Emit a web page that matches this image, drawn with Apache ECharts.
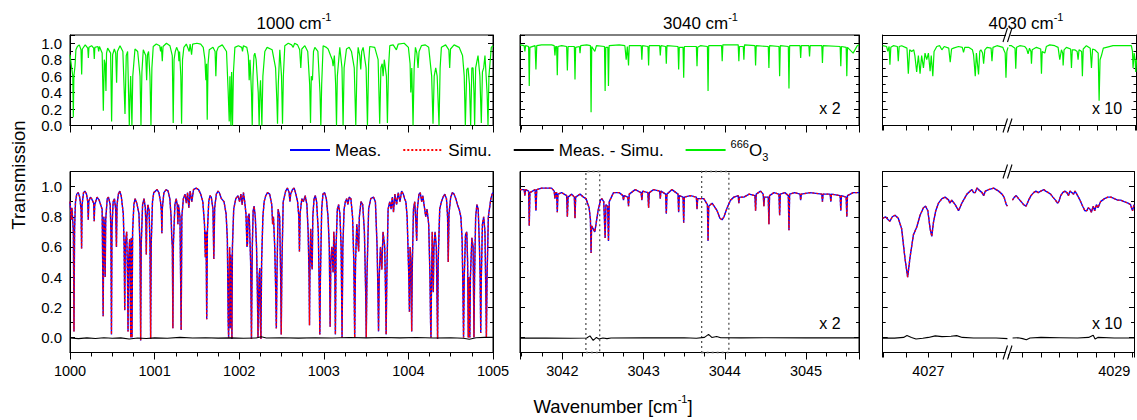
<!DOCTYPE html>
<html>
<head>
<meta charset="utf-8">
<script src="https://cdn.jsdelivr.net/npm/echarts@6/dist/echarts.min.js"></script>
<style>
html,body{margin:0;padding:0;background:#fff;}
#c{width:1137px;height:420px;}
</style>
</head>
<body>
<div id="c"></div>
<script>
// ---------------- DATA ----------------
const panelTitles = ['1000', '3040', '4030'];
const scaleNotes = ['x 2', 'x 10'];
const legendNames = ['Meas.', 'Simu.', 'Meas. - Simu.', '666O3'];
const yTickStep = 0.2;
const xRange1000 = [1000, 1005];
const xRange3040 = [3041.479, 3045.652];
const xRange4030a = [4026.595, 4027.705];
const xRange4030b = [4027.84, 4029.215];
const labels4030 = [4027, 4029];
const boxes3040 = [[3042.29, 3042.46], [3043.715, 3044.05]];

const ozone1000 = [
[1000.000,0.86],[1000.010,0.78],[1000.020,0.70],[1000.033,0.60],[1000.039,0.10],[1000.046,0.60],[1000.059,0.72],[1000.070,0.92],[1000.087,0.96],[1000.110,0.98],[1000.130,0.92],[1000.138,0.62],[1000.146,0.93],[1000.180,0.98],[1000.210,0.94],[1000.217,0.82],[1000.224,0.95],[1000.255,0.97],[1000.280,0.94],[1000.287,0.81],[1000.294,0.95],[1000.330,0.96],[1000.339,0.90],[1000.348,0.96],[1000.380,0.88],[1000.394,0.18],[1000.405,0.80],[1000.415,0.75],[1000.425,0.42],[1000.432,0.88],[1000.445,0.94],[1000.480,0.88],[1000.492,0.05],[1000.504,0.86],[1000.524,0.93],[1000.540,0.88],[1000.551,0.52],[1000.560,0.90],[1000.591,0.97],[1000.625,0.90],[1000.650,0.14],[1000.665,0.85],[1000.681,0.90],[1000.692,0.40],[1000.701,0.00],[1000.709,0.35],[1000.717,0.60],[1000.725,0.30],[1000.732,0.00],[1000.742,0.60],[1000.768,0.93],[1000.800,0.90],[1000.828,0.60],[1000.839,0.00],[1000.850,0.65],[1000.866,0.92],[1000.895,0.85],[1000.906,0.55],[1000.916,0.86],[1000.929,0.90],[1000.945,0.60],[1000.957,0.00],[1000.968,0.70],[1000.984,0.96],[1001.020,0.99],[1001.060,0.97],[1001.071,0.90],[1001.080,0.96],[1001.091,0.78],[1001.100,0.96],[1001.140,1.00],[1001.181,0.97],[1001.209,0.85],[1001.220,0.03],[1001.230,0.80],[1001.245,0.90],[1001.260,0.95],[1001.280,0.90],[1001.287,0.78],[1001.295,0.90],[1001.310,0.60],[1001.319,0.02],[1001.330,0.80],[1001.346,0.95],[1001.375,0.99],[1001.409,0.90],[1001.420,0.99],[1001.437,0.86],[1001.450,0.99],[1001.500,1.00],[1001.545,0.99],[1001.575,0.95],[1001.595,0.80],[1001.606,0.55],[1001.614,0.75],[1001.622,0.07],[1001.632,0.75],[1001.646,0.92],[1001.690,0.95],[1001.715,0.90],[1001.724,0.60],[1001.734,0.90],[1001.752,0.95],[1001.800,0.98],[1001.850,0.90],[1001.870,0.40],[1001.882,0.05],[1001.890,0.60],[1001.895,0.30],[1001.902,0.00],[1001.910,0.65],[1001.915,0.40],[1001.921,0.00],[1001.932,0.65],[1001.949,0.95],[1001.990,0.97],[1002.030,0.95],[1002.039,0.90],[1002.050,0.97],[1002.090,0.95],[1002.108,0.85],[1002.118,0.55],[1002.128,0.80],[1002.145,0.40],[1002.154,0.00],[1002.163,0.60],[1002.175,0.85],[1002.185,0.88],[1002.200,0.80],[1002.225,0.40],[1002.236,0.00],[1002.244,0.40],[1002.252,0.55],[1002.260,0.30],[1002.268,0.00],[1002.280,0.60],[1002.303,0.90],[1002.330,0.95],[1002.390,0.92],[1002.430,0.70],[1002.445,0.30],[1002.453,0.02],[1002.462,0.50],[1002.480,0.92],[1002.500,0.60],[1002.512,0.02],[1002.522,0.60],[1002.539,0.97],[1002.580,1.00],[1002.620,0.98],[1002.638,0.95],[1002.655,1.00],[1002.690,0.98],[1002.715,0.92],[1002.728,0.70],[1002.740,0.93],[1002.776,0.97],[1002.810,0.90],[1002.833,0.50],[1002.843,0.03],[1002.852,0.60],[1002.866,0.55],[1002.878,0.90],[1002.894,0.95],[1002.930,0.90],[1002.955,0.40],[1002.965,0.00],[1002.975,0.50],[1002.992,0.97],[1003.030,0.95],[1003.051,0.93],[1003.080,0.85],[1003.100,0.80],[1003.110,0.72],[1003.125,0.85],[1003.140,0.50],[1003.150,0.00],[1003.160,0.60],[1003.189,0.95],[1003.215,0.70],[1003.228,0.00],[1003.240,0.70],[1003.268,0.93],[1003.300,0.95],[1003.327,0.90],[1003.360,0.70],[1003.378,0.00],[1003.392,0.70],[1003.406,0.95],[1003.425,0.85],[1003.437,0.68],[1003.448,0.90],[1003.465,0.95],[1003.500,0.70],[1003.516,0.00],[1003.530,0.75],[1003.543,0.96],[1003.602,0.95],[1003.642,0.80],[1003.661,0.02],[1003.675,0.70],[1003.690,0.75],[1003.701,0.60],[1003.715,0.80],[1003.740,0.60],[1003.752,0.03],[1003.765,0.70],[1003.780,0.97],[1003.820,0.98],[1003.858,0.92],[1003.880,0.99],[1003.950,1.00],[1004.000,0.95],[1004.020,0.75],[1004.028,0.40],[1004.040,0.70],[1004.055,0.00],[1004.068,0.70],[1004.083,0.95],[1004.100,0.88],[1004.114,0.70],[1004.126,0.90],[1004.154,0.97],[1004.200,0.98],[1004.240,0.95],[1004.275,0.60],[1004.291,0.02],[1004.305,0.60],[1004.323,0.70],[1004.340,0.60],[1004.362,0.00],[1004.375,0.70],[1004.390,0.95],[1004.440,0.98],[1004.478,0.92],[1004.488,0.70],[1004.498,0.93],[1004.540,0.98],[1004.600,0.95],[1004.640,0.85],[1004.660,0.60],[1004.673,0.00],[1004.690,0.68],[1004.705,0.70],[1004.722,0.50],[1004.736,0.00],[1004.750,0.70],[1004.764,0.70],[1004.775,0.40],[1004.783,0.00],[1004.795,0.70],[1004.823,0.85],[1004.845,0.60],[1004.862,0.03],[1004.875,0.65],[1004.890,0.70],[1004.905,0.85],[1004.930,0.40],[1004.941,0.00],[1004.952,0.60],[1004.980,0.95],[1005.000,0.97]
];

const meas1000 = [
[1000.000,0.90],[1000.008,0.84],[1000.015,0.78],[1000.022,0.86],[1000.030,0.80],[1000.040,0.70],[1000.047,0.04],[1000.054,0.72],[1000.065,0.90],[1000.080,0.95],[1000.098,0.96],[1000.115,0.93],[1000.131,0.85],[1000.137,0.59],[1000.143,0.88],[1000.160,0.96],[1000.176,0.97],[1000.195,0.95],[1000.210,0.90],[1000.216,0.78],[1000.222,0.90],[1000.240,0.93],[1000.255,0.92],[1000.280,0.89],[1000.286,0.77],[1000.292,0.88],[1000.320,0.93],[1000.345,0.91],[1000.380,0.85],[1000.392,0.14],[1000.400,0.80],[1000.410,0.70],[1000.416,0.40],[1000.422,0.78],[1000.440,0.92],[1000.455,0.93],[1000.475,0.88],[1000.484,0.70],[1000.490,0.02],[1000.496,0.72],[1000.510,0.90],[1000.525,0.92],[1000.540,0.85],[1000.549,0.60],[1000.556,0.88],[1000.572,0.95],[1000.588,0.97],[1000.605,0.94],[1000.630,0.82],[1000.640,0.60],[1000.647,0.18],[1000.654,0.62],[1000.670,0.70],[1000.680,0.40],[1000.686,0.04],[1000.692,0.50],[1000.705,0.65],[1000.714,0.20],[1000.718,0.00],[1000.724,0.66],[1000.729,0.30],[1000.733,0.00],[1000.740,0.70],[1000.755,0.88],[1000.770,0.92],[1000.790,0.89],[1000.815,0.82],[1000.828,0.60],[1000.835,-0.02],[1000.842,0.62],[1000.858,0.88],[1000.875,0.92],[1000.890,0.86],[1000.897,0.75],[1000.902,0.55],[1000.908,0.78],[1000.920,0.88],[1000.935,0.84],[1000.946,0.60],[1000.953,-0.01],[1000.960,0.62],[1000.975,0.90],[1000.990,0.96],[1001.010,0.97],[1001.030,0.98],[1001.050,0.96],[1001.070,0.90],[1001.080,0.84],[1001.086,0.69],[1001.092,0.86],[1001.110,0.96],[1001.137,0.98],[1001.160,0.97],[1001.180,0.92],[1001.195,0.80],[1001.203,0.66],[1001.210,0.60],[1001.216,0.06],[1001.222,0.62],[1001.240,0.88],[1001.255,0.92],[1001.268,0.88],[1001.275,0.75],[1001.282,0.88],[1001.300,0.80],[1001.314,0.05],[1001.322,0.80],[1001.340,0.92],[1001.360,0.95],[1001.375,0.89],[1001.390,0.96],[1001.405,0.86],[1001.420,0.97],[1001.440,0.90],[1001.460,0.98],[1001.490,0.99],[1001.520,0.98],[1001.545,0.95],[1001.570,0.90],[1001.590,0.75],[1001.600,0.53],[1001.608,0.70],[1001.616,0.12],[1001.624,0.70],[1001.640,0.90],[1001.655,0.94],[1001.670,0.93],[1001.690,0.85],[1001.700,0.52],[1001.710,0.86],[1001.730,0.95],[1001.750,0.97],[1001.765,0.96],[1001.790,0.92],[1001.820,0.90],[1001.845,0.82],[1001.860,0.65],[1001.870,0.10],[1001.875,0.00],[1001.880,0.35],[1001.887,0.60],[1001.894,0.06],[1001.900,0.55],[1001.908,0.30],[1001.914,-0.01],[1001.920,0.60],[1001.935,0.85],[1001.960,0.92],[1001.985,0.94],[1002.005,0.90],[1002.020,0.95],[1002.035,0.88],[1002.050,0.96],[1002.065,0.90],[1002.080,0.82],[1002.092,0.60],[1002.098,0.62],[1002.105,0.80],[1002.118,0.82],[1002.135,0.50],[1002.145,-0.01],[1002.155,0.60],[1002.165,0.84],[1002.176,0.87],[1002.190,0.80],[1002.205,0.60],[1002.215,0.30],[1002.222,0.00],[1002.228,0.20],[1002.235,0.40],[1002.243,0.46],[1002.250,0.10],[1002.257,-0.01],[1002.265,0.50],[1002.280,0.80],[1002.295,0.90],[1002.314,0.94],[1002.335,0.96],[1002.360,0.95],[1002.385,0.88],[1002.395,0.75],[1002.405,0.80],[1002.420,0.60],[1002.432,0.30],[1002.439,0.06],[1002.446,0.40],[1002.460,0.85],[1002.478,0.80],[1002.490,0.40],[1002.497,0.02],[1002.504,0.45],[1002.520,0.90],[1002.549,0.97],[1002.570,0.99],[1002.590,0.96],[1002.600,0.90],[1002.608,0.95],[1002.630,0.98],[1002.650,0.99],[1002.670,0.95],[1002.690,0.90],[1002.705,0.80],[1002.712,0.57],[1002.720,0.82],[1002.740,0.92],[1002.760,0.90],[1002.780,0.94],[1002.800,0.88],[1002.815,0.70],[1002.826,0.40],[1002.831,0.08],[1002.837,0.50],[1002.845,0.72],[1002.855,0.50],[1002.863,0.45],[1002.870,0.80],[1002.885,0.92],[1002.900,0.94],[1002.915,0.90],[1002.935,0.70],[1002.947,0.30],[1002.953,0.02],[1002.960,0.40],[1002.975,0.85],[1002.990,0.95],[1003.010,0.96],[1003.030,0.92],[1003.050,0.80],[1003.065,0.60],[1003.075,0.07],[1003.083,0.50],[1003.095,0.60],[1003.110,0.43],[1003.118,0.70],[1003.128,0.60],[1003.137,0.02],[1003.145,0.60],[1003.160,0.85],[1003.175,0.88],[1003.190,0.82],[1003.205,0.60],[1003.216,0.00],[1003.225,0.60],[1003.240,0.85],[1003.255,0.90],[1003.270,0.92],[1003.285,0.88],[1003.300,0.93],[1003.320,0.92],[1003.340,0.80],[1003.355,0.50],[1003.365,0.00],[1003.375,0.50],[1003.390,0.75],[1003.405,0.62],[1003.412,0.57],[1003.420,0.80],[1003.440,0.90],[1003.460,0.88],[1003.480,0.70],[1003.495,0.30],[1003.502,0.00],[1003.510,0.40],[1003.530,0.85],[1003.555,0.92],[1003.588,0.93],[1003.610,0.90],[1003.630,0.60],[1003.640,0.30],[1003.647,0.04],[1003.655,0.40],[1003.670,0.60],[1003.686,0.45],[1003.700,0.70],[1003.720,0.60],[1003.730,0.30],[1003.737,0.02],[1003.745,0.40],[1003.760,0.85],[1003.780,0.90],[1003.795,0.85],[1003.810,0.93],[1003.824,0.83],[1003.840,0.95],[1003.860,0.88],[1003.880,0.96],[1003.900,0.90],[1003.920,0.97],[1003.940,0.95],[1003.955,0.92],[1003.970,0.90],[1003.985,0.80],[1003.995,0.60],[1004.005,0.40],[1004.012,0.17],[1004.020,0.60],[1004.030,0.50],[1004.039,0.04],[1004.047,0.50],[1004.060,0.85],[1004.075,0.90],[1004.090,0.75],[1004.098,0.64],[1004.106,0.85],[1004.125,0.95],[1004.140,0.96],[1004.157,0.90],[1004.170,0.94],[1004.190,0.86],[1004.205,0.80],[1004.220,0.85],[1004.240,0.75],[1004.255,0.40],[1004.262,0.10],[1004.267,0.00],[1004.273,0.35],[1004.282,0.70],[1004.294,0.30],[1004.302,0.60],[1004.315,0.70],[1004.330,0.60],[1004.340,0.20],[1004.345,-0.01],[1004.352,0.50],[1004.370,0.85],[1004.390,0.90],[1004.410,0.93],[1004.430,0.95],[1004.450,0.92],[1004.463,0.80],[1004.471,0.50],[1004.480,0.82],[1004.500,0.93],[1004.520,0.96],[1004.540,0.95],[1004.560,0.92],[1004.580,0.88],[1004.600,0.85],[1004.620,0.80],[1004.635,0.65],[1004.645,0.30],[1004.652,0.00],[1004.660,0.40],[1004.675,0.68],[1004.690,0.70],[1004.700,0.50],[1004.708,0.00],[1004.714,0.40],[1004.720,0.30],[1004.726,0.00],[1004.733,0.40],[1004.750,0.66],[1004.765,0.60],[1004.775,0.00],[1004.782,0.40],[1004.795,0.80],[1004.810,0.88],[1004.825,0.85],[1004.840,0.60],[1004.848,0.40],[1004.855,0.03],[1004.862,0.40],[1004.875,0.75],[1004.890,0.80],[1004.905,0.70],[1004.915,0.30],[1004.922,0.00],[1004.930,0.40],[1004.945,0.80],[1004.960,0.86],[1004.975,0.92],[1004.990,0.95],[1005.000,0.96]
];
// Simu. coincides with Meas. at the resolution of the picture
const simu1000 = meas1000;
const res1000 = [[1000.00,-0.004],[1000.10,-0.008],[1000.20,-0.003],[1000.30,-0.007],[1000.40,-0.002],[1000.50,-0.006],[1000.60,-0.003],[1000.70,-0.010],[1000.80,-0.004],[1000.90,-0.007],[1001.00,-0.003],[1001.15,-0.006],[1001.30,0.000],[1001.45,-0.004],[1001.60,-0.002],[1001.75,-0.005],[1001.90,-0.003],[1002.05,-0.006],[1002.20,-0.004],[1002.26,0.004],[1002.32,-0.004],[1002.50,-0.002],[1002.70,-0.005],[1002.90,-0.002],[1003.10,-0.004],[1003.30,-0.001],[1003.50,-0.003],[1003.70,-0.001],[1003.90,-0.003],[1004.10,-0.001],[1004.30,-0.004],[1004.50,-0.002],[1004.65,-0.006],[1004.72,-0.012],[1004.80,-0.002],[1004.90,0.000],[1005.00,0.000]];

const ozone3040 = [
[3041.479,0.98],[3041.530,0.97],[3041.539,0.90],[3041.548,0.97],[3041.585,0.96],[3041.593,0.48],[3041.601,0.95],[3041.665,0.97],[3041.675,0.68],[3041.685,0.97],[3041.745,0.98],[3041.868,0.98],[3041.900,0.97],[3041.909,0.85],[3041.918,0.96],[3041.930,0.96],[3041.938,0.61],[3041.946,0.96],[3041.992,0.97],[3042.053,0.96],[3042.062,0.67],[3042.071,0.96],[3042.148,0.96],[3042.156,0.56],[3042.164,0.95],[3042.210,0.96],[3042.218,0.88],[3042.226,0.97],[3042.300,0.98],[3042.346,0.97],[3042.354,0.16],[3042.362,0.96],[3042.400,0.90],[3042.420,0.97],[3042.519,0.96],[3042.527,0.42],[3042.535,0.95],[3042.560,0.95],[3042.568,0.48],[3042.576,0.97],[3042.700,0.98],[3042.770,0.97],[3042.786,0.80],[3042.800,0.96],[3042.815,0.73],[3042.824,0.97],[3042.971,0.97],[3042.979,0.80],[3042.987,0.97],[3043.054,0.96],[3043.062,0.73],[3043.070,0.97],[3043.198,0.97],[3043.206,0.85],[3043.214,0.97],[3043.272,0.96],[3043.280,0.75],[3043.288,0.97],[3043.424,0.96],[3043.432,0.68],[3043.440,0.95],[3043.486,0.95],[3043.494,0.58],[3043.502,0.96],[3043.650,0.96],[3043.658,0.72],[3043.666,0.95],[3043.700,0.97],[3043.786,0.96],[3043.794,0.42],[3043.802,0.97],[3043.960,0.97],[3043.968,0.78],[3043.976,0.98],[3044.165,0.98],[3044.173,0.78],[3044.181,0.96],[3044.227,0.96],[3044.235,0.80],[3044.243,0.98],[3044.371,0.97],[3044.379,0.73],[3044.387,0.97],[3044.535,0.96],[3044.543,0.70],[3044.551,0.97],[3044.667,0.96],[3044.675,0.60],[3044.683,0.97],[3044.782,0.96],[3044.790,0.45],[3044.798,0.97],[3044.926,0.97],[3044.934,0.82],[3044.942,0.97],[3045.035,0.97],[3045.043,0.84],[3045.051,0.97],[3045.194,0.97],[3045.202,0.76],[3045.210,0.97],[3045.420,0.96],[3045.428,0.72],[3045.436,0.96],[3045.494,0.95],[3045.502,0.60],[3045.510,0.95],[3045.580,0.88],[3045.630,0.97],[3045.652,0.98]
];

const meas3040 = [
[3041.479,0.98],[3041.530,0.98],[3041.539,0.94],[3041.548,0.98],[3041.585,0.97],[3041.593,0.74],[3041.601,0.96],[3041.665,0.98],[3041.675,0.84],[3041.685,0.98],[3041.745,0.99],[3041.868,0.99],[3041.900,0.97],[3041.909,0.92],[3041.918,0.96],[3041.930,0.96],[3041.938,0.83],[3041.946,0.95],[3041.992,0.96],[3042.053,0.94],[3042.062,0.80],[3042.071,0.93],[3042.115,0.95],[3042.148,0.93],[3042.156,0.79],[3042.164,0.93],[3042.218,0.95],[3042.260,0.93],[3042.292,0.92],[3042.330,0.86],[3042.346,0.78],[3042.354,0.56],[3042.360,0.74],[3042.400,0.70],[3042.440,0.84],[3042.470,0.91],[3042.486,0.92],[3042.510,0.90],[3042.527,0.66],[3042.537,0.88],[3042.558,0.87],[3042.568,0.64],[3042.578,0.90],[3042.630,0.96],[3042.700,0.96],[3042.745,0.94],[3042.753,0.91],[3042.760,0.94],[3042.806,0.93],[3042.815,0.87],[3042.824,0.95],[3042.897,0.98],[3042.970,0.96],[3042.979,0.91],[3042.988,0.97],[3043.053,0.96],[3043.062,0.86],[3043.071,0.96],[3043.123,0.98],[3043.198,0.97],[3043.206,0.92],[3043.214,0.97],[3043.272,0.95],[3043.280,0.82],[3043.288,0.95],[3043.350,0.98],[3043.424,0.95],[3043.432,0.83],[3043.440,0.94],[3043.486,0.93],[3043.494,0.76],[3043.502,0.93],[3043.576,0.94],[3043.650,0.93],[3043.658,0.85],[3043.666,0.92],[3043.741,0.92],[3043.786,0.88],[3043.794,0.64],[3043.802,0.87],[3043.844,0.89],[3043.905,0.84],[3043.940,0.79],[3043.967,0.78],[3043.990,0.80],[3044.029,0.86],[3044.070,0.91],[3044.111,0.93],[3044.165,0.94],[3044.173,0.89],[3044.181,0.93],[3044.235,0.93],[3044.300,0.95],[3044.371,0.94],[3044.379,0.84],[3044.387,0.95],[3044.440,0.97],[3044.473,0.95],[3044.481,0.87],[3044.489,0.93],[3044.535,0.93],[3044.543,0.75],[3044.551,0.94],[3044.605,0.96],[3044.667,0.95],[3044.675,0.81],[3044.683,0.95],[3044.740,0.96],[3044.782,0.94],[3044.790,0.71],[3044.798,0.95],[3044.860,0.96],[3044.926,0.95],[3044.934,0.91],[3044.942,0.95],[3045.050,0.96],[3045.194,0.95],[3045.202,0.90],[3045.210,0.95],[3045.297,0.95],[3045.305,0.90],[3045.313,0.95],[3045.420,0.94],[3045.428,0.84],[3045.436,0.94],[3045.494,0.93],[3045.502,0.80],[3045.510,0.94],[3045.580,0.96],[3045.652,0.96]
];
const simu3040 = meas3040;
const res3040 = [[3041.48,-0.005],[3041.80,-0.004],[3042.10,-0.006],[3042.30,-0.004],[3042.34,0.010],[3042.38,-0.020],[3042.42,0.000],[3042.45,-0.010],[3042.50,-0.004],[3042.55,-0.008],[3042.60,-0.004],[3043.00,-0.003],[3043.50,-0.002],[3043.65,-0.006],[3043.75,0.000],[3043.80,0.020],[3043.84,0.000],[3043.90,0.006],[3043.95,-0.002],[3044.20,-0.003],[3044.50,-0.002],[3045.00,-0.003],[3045.65,-0.003]];

const ozone4030a = [
[4026.595,0.97],[4026.630,0.96],[4026.640,0.90],[4026.652,0.96],[4026.659,0.74],[4026.667,0.95],[4026.689,0.97],[4026.725,0.96],[4026.733,0.78],[4026.741,0.96],[4026.763,0.97],[4026.810,0.94],[4026.822,0.63],[4026.834,0.92],[4026.852,0.90],[4026.870,0.92],[4026.880,0.85],[4026.896,0.65],[4026.911,0.85],[4026.926,0.63],[4026.940,0.85],[4026.956,0.70],[4026.970,0.88],[4026.985,0.80],[4027.000,0.88],[4027.015,0.66],[4027.025,0.85],[4027.039,0.60],[4027.050,0.90],[4027.074,0.96],[4027.100,0.97],[4027.119,0.92],[4027.140,0.96],[4027.180,0.94],[4027.193,0.77],[4027.205,0.93],[4027.222,0.94],[4027.267,0.96],[4027.300,0.95],[4027.311,0.89],[4027.322,0.95],[4027.356,0.95],[4027.390,0.92],[4027.400,0.86],[4027.415,0.60],[4027.425,0.88],[4027.430,0.88],[4027.444,0.62],[4027.455,0.90],[4027.465,0.92],[4027.480,0.88],[4027.489,0.75],[4027.500,0.92],[4027.519,0.95],[4027.555,0.94],[4027.563,0.78],[4027.572,0.95],[4027.607,0.97],[4027.660,0.95],[4027.667,0.92],[4027.680,0.88],[4027.687,0.58],[4027.695,0.90],[4027.705,0.95]
];
const ozone4030b = [
[4027.850,0.97],[4027.877,0.97],[4027.915,0.94],[4027.923,0.69],[4027.932,0.95],[4027.966,0.97],[4028.020,0.96],[4028.040,0.93],[4028.055,0.87],[4028.070,0.94],[4028.085,0.90],[4028.091,0.75],[4028.099,0.92],[4028.144,0.95],[4028.190,0.93],[4028.198,0.63],[4028.206,0.90],[4028.234,0.88],[4028.250,0.96],[4028.287,0.98],[4028.340,0.97],[4028.376,0.95],[4028.394,0.80],[4028.412,0.92],[4028.425,0.88],[4028.430,0.73],[4028.440,0.92],[4028.465,0.95],[4028.510,0.93],[4028.519,0.70],[4028.528,0.92],[4028.554,0.92],[4028.580,0.90],[4028.590,0.80],[4028.600,0.92],[4028.628,0.90],[4028.636,0.60],[4028.645,0.93],[4028.679,0.97],[4028.720,0.94],[4028.733,0.70],[4028.745,0.93],[4028.768,0.92],[4028.805,0.88],[4028.815,0.30],[4028.825,0.80],[4028.840,0.85],[4028.860,0.94],[4028.893,0.95],[4028.964,0.97],[4029.060,0.97],[4029.160,0.97],[4029.172,0.90],[4029.178,0.70],[4029.190,0.88],[4029.200,0.80],[4029.207,0.65],[4029.215,0.80]
];

const meas4030a = [
[4026.595,0.79],[4026.620,0.80],[4026.644,0.78],[4026.659,0.77],[4026.680,0.80],[4026.704,0.81],[4026.733,0.79],[4026.763,0.72],[4026.793,0.52],[4026.816,0.40],[4026.837,0.53],[4026.867,0.68],[4026.896,0.73],[4026.926,0.81],[4026.956,0.86],[4026.975,0.87],[4026.995,0.84],[4027.015,0.72],[4027.030,0.67],[4027.044,0.76],[4027.065,0.84],[4027.089,0.89],[4027.120,0.92],[4027.148,0.93],[4027.180,0.91],[4027.190,0.89],[4027.207,0.91],[4027.237,0.88],[4027.267,0.84],[4027.296,0.89],[4027.341,0.95],[4027.385,0.98],[4027.400,0.96],[4027.415,0.96],[4027.430,0.99],[4027.444,0.98],[4027.475,0.96],[4027.489,0.94],[4027.505,0.97],[4027.533,0.98],[4027.578,0.99],[4027.600,0.98],[4027.622,0.97],[4027.652,0.95],[4027.670,0.93],[4027.690,0.88],[4027.700,0.87]
];
const meas4030b = [
[4027.888,0.91],[4027.910,0.93],[4027.930,0.94],[4027.955,0.92],[4027.984,0.90],[4028.010,0.88],[4028.037,0.87],[4028.065,0.91],[4028.091,0.94],[4028.120,0.96],[4028.144,0.97],[4028.170,0.96],[4028.198,0.97],[4028.230,0.98],[4028.251,0.97],[4028.280,0.96],[4028.305,0.95],[4028.330,0.93],[4028.358,0.91],[4028.380,0.89],[4028.394,0.90],[4028.415,0.94],[4028.437,0.96],[4028.460,0.97],[4028.483,0.96],[4028.500,0.94],[4028.515,0.97],[4028.537,0.96],[4028.555,0.95],[4028.572,0.97],[4028.600,0.94],[4028.626,0.91],[4028.655,0.87],[4028.679,0.84],[4028.700,0.84],[4028.715,0.86],[4028.735,0.85],[4028.750,0.83],[4028.770,0.87],[4028.786,0.84],[4028.805,0.88],[4028.822,0.86],[4028.850,0.90],[4028.893,0.92],[4028.930,0.93],[4028.964,0.93],[4029.000,0.92],[4029.036,0.91],[4029.070,0.91],[4029.107,0.90],[4029.150,0.89],[4029.178,0.88],[4029.192,0.85],[4029.200,0.84],[4029.215,0.88]
];
const simu4030a = meas4030a;
const simu4030b = meas4030b;
const res4030a = [[4026.595,-0.005],[4026.70,-0.005],[4026.78,0.000],[4026.81,0.012],[4026.85,0.000],[4026.89,-0.010],[4026.95,-0.006],[4027.00,0.000],[4027.06,0.010],[4027.12,0.005],[4027.20,0.008],[4027.25,0.012],[4027.30,0.000],[4027.40,-0.004],[4027.50,-0.004],[4027.60,-0.004],[4027.70,-0.008]];
const res4030b = [[4027.89,-0.004],[4027.95,-0.002],[4028.00,-0.008],[4028.04,-0.015],[4028.08,-0.004],[4028.20,0.000],[4028.40,-0.002],[4028.60,-0.004],[4028.72,0.000],[4028.77,0.015],[4028.79,-0.010],[4028.82,0.000],[4029.00,-0.004],[4029.215,-0.004]];

// ---------------- LAYOUT ----------------
const FONT = '"Liberation Sans", Arial, Helvetica, sans-serif';
const K = '#000';
const ROW_T = {top: 35, height: 90.5};
const ROW_B = {top: 171.5, height: 181};
const COL = [{left: 70, width: 423}, {left: 520, width: 339}, {left: 882.7, width: 125.3}, {left: 1008, width: 128.5}];
const YR_T = [0, 1.1], YR_B = [-0.1, 1.1];
const C_MEAS = '#0000ff', C_SIMU = '#ff0000', C_RES = '#000000', C_OZ = '#00ee00';

const grids = [], xAxes = [], yAxes = [], series = [];

function addGrid(row, col, border) {
  grids.push({left: col.left, top: row.top, width: col.width, height: row.height,
    show: border, borderColor: K, borderWidth: 1, backgroundColor: 'transparent', containLabel: false});
  return grids.length - 1;
}
function intLabel(allowed) {
  return v => {
    const r = Math.round(v);
    if (Math.abs(v - r) > 1e-6) return '';
    if (allowed && allowed.indexOf(r) < 0) return '';
    return String(r);
  };
}
function addX(gi, range, step, minor, labelFmt, pos) {
  xAxes.push({
    type: 'value', gridIndex: gi, min: range[0], max: range[1], position: pos || 'bottom',
    minInterval: step, maxInterval: step, splitNumber: Math.max(1, Math.round((range[1] - range[0]) / step)),
    axisLine: {show: true, onZero: false, lineStyle: {color: K, width: 1}},
    axisTick: {show: pos !== 'top', inside: false, length: minor ? 7 : 5, lineStyle: {color: K, width: 1}},
    minorTick: {show: !!minor && pos !== 'top', splitNumber: minor || 2, length: 4, lineStyle: {color: K, width: 1}},
    splitLine: {show: false}, minorSplitLine: {show: false},
    axisLabel: {show: !!labelFmt, color: K, fontFamily: FONT, fontSize: 14.5, margin: 11, formatter: labelFmt || (() => '')}
  });
  return xAxes.length - 1;
}
function yFmt(v) {
  const q = v / yTickStep;
  if (Math.abs(q - Math.round(q)) > 1e-6) return '';
  const r = Math.round(q) * yTickStep;
  return (Math.abs(r) < 1e-9 ? 0 : r).toFixed(1);
}
function addY(gi, range, pos, labels) {
  yAxes.push({
    type: 'value', gridIndex: gi, min: range[0], max: range[1], position: pos,
    minInterval: yTickStep, maxInterval: yTickStep, splitNumber: Math.round((range[1] - range[0]) / yTickStep),
    axisLine: {show: true, onZero: false, lineStyle: {color: K, width: 1}},
    axisTick: {show: true, inside: true, length: 5, lineStyle: {color: K, width: 1}},
    minorTick: {show: true, splitNumber: 2, length: 3, lineStyle: {color: K, width: 1}},
    splitLine: {show: false}, minorSplitLine: {show: false},
    axisLabel: {show: labels, color: K, fontFamily: FONT, fontSize: 15, margin: 8, formatter: yFmt}
  });
  return yAxes.length - 1;
}
function addLine(name, data, xi, yi, color, type, width, z, extra) {
  series.push(Object.assign({
    name, type: 'line', data, xAxisIndex: xi, yAxisIndex: yi, showSymbol: false, symbol: 'none',
    animation: false, silent: true, clip: true, z,
    lineStyle: {color, width, type}, itemStyle: {color}
  }, extra || {}));
}

// --- top row (666O3) ---
{
  const g0 = addGrid(ROW_T, COL[0], true);
  const x0 = addX(g0, xRange1000, 1, 4, null);
  const y0 = addY(g0, YR_T, 'left', true); addY(g0, YR_T, 'right', false);
  addLine(legendNames[3], ozone1000, x0, y0, C_OZ, 'solid', 1.2, 2);

  const g1 = addGrid(ROW_T, COL[1], true);
  const x1 = addX(g1, xRange3040, 1, 4, null);
  const y1 = addY(g1, YR_T, 'left', false); addY(g1, YR_T, 'right', false);
  addLine(legendNames[3], ozone3040, x1, y1, C_OZ, 'solid', 1.2, 2);

  const g2 = addGrid(ROW_T, COL[2], false);
  const x2 = addX(g2, xRange4030a, 0.2, 0, null);
  addX(g2, xRange4030a, 0.2, 0, null, 'top');
  const y2 = addY(g2, YR_T, 'left', false);
  addLine(legendNames[3], ozone4030a, x2, y2, C_OZ, 'solid', 1.2, 2);

  const g3 = addGrid(ROW_T, COL[3], false);
  const x3 = addX(g3, xRange4030b, 0.2, 0, null);
  addX(g3, xRange4030b, 0.2, 0, null, 'top');
  const y3 = addY(g3, YR_T, 'right', false);
  addLine(legendNames[3], ozone4030b, x3, y3, C_OZ, 'solid', 1.2, 2);
}
// --- bottom row (Meas., Simu., residual) ---
{
  const g4 = addGrid(ROW_B, COL[0], true);
  const x4 = addX(g4, xRange1000, 1, 4, intLabel(null));
  const y4 = addY(g4, YR_B, 'left', true); addY(g4, YR_B, 'right', false);
  addLine(legendNames[0], meas1000, x4, y4, C_MEAS, 'solid', 1.4, 2);
  addLine(legendNames[1], simu1000, x4, y4, C_SIMU, [2, 2], 1.3, 3);
  addLine(legendNames[2], res1000, x4, y4, C_RES, 'solid', 1.1, 4);

  const g5 = addGrid(ROW_B, COL[1], true);
  const x5 = addX(g5, xRange3040, 1, 4, intLabel(null));
  const y5 = addY(g5, YR_B, 'left', false); addY(g5, YR_B, 'right', false);
  addLine(legendNames[0], meas3040, x5, y5, C_MEAS, 'solid', 1.4, 2, {
    markArea: {silent: true, itemStyle: {color: 'rgba(0,0,0,0)', borderColor: '#555', borderWidth: 1.3, borderType: [2, 3]},
      data: boxes3040.map(b => [{xAxis: b[0], yAxis: YR_B[0]}, {xAxis: b[1], yAxis: YR_B[1]}])}
  });
  addLine(legendNames[1], simu3040, x5, y5, C_SIMU, [2, 2], 1.3, 3);
  addLine(legendNames[2], res3040, x5, y5, C_RES, 'solid', 1.1, 4);

  const g6 = addGrid(ROW_B, COL[2], false);
  const x6 = addX(g6, xRange4030a, 0.2, 0, intLabel(labels4030));
  addX(g6, xRange4030a, 0.2, 0, null, 'top');
  const y6 = addY(g6, YR_B, 'left', false);
  addLine(legendNames[0], meas4030a, x6, y6, C_MEAS, 'solid', 1.4, 2);
  addLine(legendNames[1], simu4030a, x6, y6, C_SIMU, [2, 2], 1.3, 3);
  addLine(legendNames[2], res4030a, x6, y6, C_RES, 'solid', 1.1, 4);

  const g7 = addGrid(ROW_B, COL[3], false);
  const x7 = addX(g7, xRange4030b, 0.2, 0, intLabel(labels4030));
  addX(g7, xRange4030b, 0.2, 0, null, 'top');
  const y7 = addY(g7, YR_B, 'right', false);
  addLine(legendNames[0], meas4030b, x7, y7, C_MEAS, 'solid', 1.4, 2);
  addLine(legendNames[1], simu4030b, x7, y7, C_SIMU, [2, 2], 1.3, 3);
  addLine(legendNames[2], res4030b, x7, y7, C_RES, 'solid', 1.1, 4);
}

// ---------------- TEXT & DECORATION ----------------
const richSup = (size) => ({
  t: {fontSize: size, lineHeight: size + 6, fontFamily: FONT, fill: K},
  s: {fontSize: Math.round(size * 0.62), lineHeight: Math.round(size * 0.62), verticalAlign: 'top', fontFamily: FONT, fill: K}
});
const graphics = [];
const titleX = [294, 700.5, 1026];
panelTitles.forEach((t, i) => {
  graphics.push({type: 'text', x: titleX[i], y: 23, z: 110,
    style: {text: '{t|' + t + ' cm}{s|-1}', rich: richSup(17), align: 'center', verticalAlign: 'middle', fill: K}});
});
graphics.push({type: 'text', x: 613, y: 406, z: 110,
  style: {text: '{t|Wavenumber [cm}{s|-1}{t|]}', rich: richSup(18.5), align: 'center', verticalAlign: 'middle', fill: K}});
graphics.push({type: 'text', x: 18, y: 175, rotation: Math.PI / 2, z: 110,
  style: {text: 'Transmission', fontSize: 18.5, fontFamily: FONT, fill: K, align: 'center', verticalAlign: 'middle'}});
// scale notes
[[830, 108, 0], [1107, 108, 1], [830, 323, 0], [1107, 323, 1]].forEach(p => {
  graphics.push({type: 'text', x: p[0], y: p[1], z: 110,
    style: {text: scaleNotes[p[2]], fontSize: 16, fontFamily: FONT, fill: K, align: 'center', verticalAlign: 'middle'}});
});
// axis-break marks
const BX = COL[3].left;
[ROW_T.top, ROW_T.top + ROW_T.height, ROW_B.top, ROW_B.top + ROW_B.height].forEach(y => {
  graphics.push({type: 'rect', z: 120, shape: {x: BX - 2, y: y - 2, width: 4.5, height: 4}, style: {fill: '#fff'}});
  graphics.push({type: 'line', z: 121, shape: {x1: BX - 5, y1: y + 7, x2: BX - 0.5, y2: y - 7}, style: {stroke: K, lineWidth: 1.1}});
  graphics.push({type: 'line', z: 121, shape: {x1: BX - 0.5, y1: y + 7, x2: BX + 4, y2: y - 7}, style: {stroke: K, lineWidth: 1.1}});
});

const chart = echarts.init(document.getElementById('c'), null, {renderer: 'svg'});
chart.setOption({
  animation: false,
  backgroundColor: '#fff',
  grid: grids,
  xAxis: xAxes,
  yAxis: yAxes,
  legend: {
    left: 289, top: 138, padding: 0, itemWidth: 40, itemHeight: 14, itemGap: 21,
    data: legendNames, selectedMode: false,
    itemStyle: {opacity: 0},
    formatter: n => n === '666O3' ? '{s|666}{t|O}{b|3}' : '{t|' + n + '}',
    textStyle: {color: K, fontFamily: FONT, fontSize: 17,
      rich: {
        t: {fontSize: 17, lineHeight: 24, fontFamily: FONT, color: K},
        s: {fontSize: 11, lineHeight: 11, verticalAlign: 'top', fontFamily: FONT, color: K},
        b: {fontSize: 11, lineHeight: 11, verticalAlign: 'bottom', fontFamily: FONT, color: K}
      }}
  },
  graphic: {elements: graphics},
  series
});
</script>
</body>
</html>
